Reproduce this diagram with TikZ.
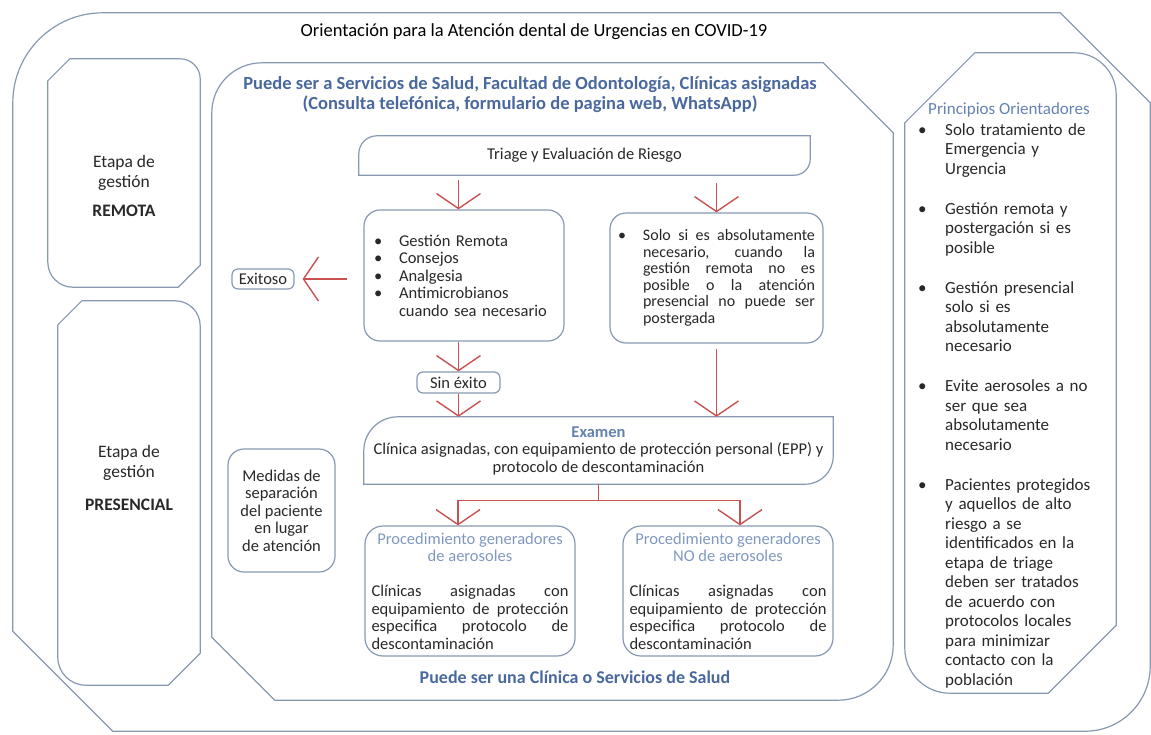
\documentclass[tikz,border=0pt]{standalone}
\usepackage{fontspec}
\setmainfont{Carlito}
\usetikzlibrary{arrows.meta,fit}
\definecolor{framec}{RGB}{135,152,178}
\definecolor{arrowc}{RGB}{200,82,82}
\definecolor{headc}{RGB}{72,104,158}
\definecolor{lightc}{RGB}{100,130,178}
\definecolor{procc}{RGB}{128,152,192}
\definecolor{txt}{RGB}{40,40,40}
% rounded NW/SE, snipped NE/SW
\newcommand\roundsnip[5]{\draw[frame] ([yshift=-#2pt]#1.north west) arc[start angle=180,end angle=90,radius=#2pt]
  -- ([xshift=-#3pt]#1.north east) -- ([yshift=-#3pt]#1.north east)
  -- ([yshift=#4pt]#1.south east) arc[start angle=0,end angle=-90,radius=#4pt]
  -- ([xshift=#5pt]#1.south west) -- ([yshift=#5pt]#1.south west) -- cycle;}
% snipped NW/SE, rounded NE/SW
\newcommand\sniprounded[5]{\draw[frame] ([yshift=-#2pt]#1.north west) -- ([xshift=#2pt]#1.north west)
  -- ([xshift=-#3pt]#1.north east) arc[start angle=90,end angle=0,radius=#3pt]
  -- ([yshift=#4pt]#1.south east) -- ([xshift=-#4pt]#1.south east)
  -- ([xshift=#5pt]#1.south west) arc[start angle=270,end angle=180,radius=#5pt] -- cycle;}
\newcommand\bul[1]{\makebox[#1][l]{\textbullet}}
\newcommand\pitem[1]{\noindent\bul{27pt}\hangindent=27pt\hangafter=1 #1\par}
\begin{document}
\begin{tikzpicture}[x=1pt,y=-1pt,
  every node/.style={inner sep=0pt,text=txt,font=\fontsize{16.5}{17.5}\selectfont},
  frame/.style={draw=framec,line width=1.2pt},
  box/.style={frame,rounded corners=#1},box/.default=16pt,
  tag/.style={frame,rounded corners=6pt,minimum height=20pt},
  redarrow/.style={draw=arrowc,line width=1.4pt,-{Straight Barb[length=15pt,width=44pt]}},
  redline/.style={draw=arrowc,line width=1.4pt},
  head/.style={font=\fontsize{18.5}{19.5}\selectfont\bfseries,text=headc,align=center},
  etapa/.style={font=\fontsize{17.5}{20}\selectfont,align=center},
  proc/.style={box=18pt,minimum width=210pt,minimum height=130pt,text width=197pt,align=justify}]
\useasboundingbox (0,0) rectangle (1151,734);
% frames
\node[fit={(13,13)(1150,731)}] (outer) {};
\roundsnip{outer}{90}{90}{65}{100}
\node[fit={(212,63)(893,700)}] (serv) {};
\roundsnip{serv}{50}{70}{55}{63}
\node[fit={(905,53)(1116,693)}] (princ) {};
\sniprounded{princ}{70}{42}{68}{45}
\node[fit={(48,59)(200,287)}] (remota) {};
\sniprounded{remota}{22}{20}{22}{25}
\node[fit={(58,301)(200,685)}] (pres) {};
\sniprounded{pres}{24}{25}{32}{28}
% titles
\node[font=\fontsize{18.5}{20}\selectfont,text=black] (title) at (534,32) {Orientación para la Atención dental de Urgencias en COVID-19};
\node[head] (servhead) at (530,94.5) {Puede ser a Servicios de Salud, Facultad de Odontología, Clínicas asignadas\\(Consulta telefónica, formulario de pagina web, WhatsApp)};
\node[head,font=\fontsize{18}{19}\selectfont\bfseries] (servfoot) at (575,677) {Puede ser una Clínica o Servicios de Salud};
\node[etapa] (remtxt) at (124,186) {Etapa de\\gestión\\[9pt]\textbf{REMOTA}};
\node[etapa] (prestxt) at (129,478) {Etapa de\\gestión\\[13pt]\textbf{PRESENCIAL}};
% triage
\node[minimum width=451pt,minimum height=39pt] (triage) at (584.5,155.5) {Triage y Evaluación de Riesgo};
\roundsnip{triage}{18}{0}{16}{0}
\node[box,minimum width=200pt,minimum height=131pt,text width=180pt,align=left] (gestion) at (464,275.5)
  {\bul{25pt}Gestión Remota\\\bul{25pt}Consejos\\\bul{25pt}Analgesia\\\bul{25pt}Antimicrobianos\\\hspace*{25pt}cuando sea necesario};
\node[box,minimum width=213pt,minimum height=130pt,text width=197pt,align=justify,font=\fontsize{16}{16.5}\selectfont] (solo) at (716.5,278)
  {\bul{25pt}\parbox[t]{172pt}{\hyphenpenalty=10000
   Solo si es absolutamente\linebreak necesario, cuando la\linebreak gestión remota no es\linebreak posible o la atención\linebreak presencial no puede ser\linebreak postergada}};
\node[tag,minimum width=62pt] (exitoso) at (263,279) {Exitoso};
\node[tag,minimum width=83pt,minimum height=21pt] (sinexito) at (458.5,382.5) {Sin éxito};
% examen
\node[minimum width=469pt,minimum height=67pt,align=center] (examen) at (598.5,450.5)
  {{\bfseries\color{lightc}Examen}\\Clínica asignadas, con equipamiento de protección personal (EPP) y\\protocolo de descontaminación};
\roundsnip{examen}{34}{0}{28}{0}
\node[proc] (aero) at (470,591) {{\centering\color{procc}Procedimiento generadores\par de aerosoles\par}\vspace{17.5pt}Clínicas asignadas con\linebreak equipamiento de protección\linebreak especifica protocolo de\linebreak descontaminación};
\node[proc] (noaero) at (728,591) {{\centering\color{procc}Procedimiento generadores\par NO de aerosoles\par}\vspace{17.5pt}Clínicas asignadas con\linebreak equipamiento de protección\linebreak especifica protocolo de\linebreak descontaminación};
\node[box,minimum width=107pt,minimum height=123pt,align=center] (medidas) at (281.5,510.5) {Medidas de\\separación\\del paciente\\en lugar\\de atención};
% arrows
\draw[redarrow,shorten <=5pt] (triage.south -| sinexito) -- (gestion.north -| sinexito);
\draw[redarrow,shorten <=8pt] (triage.south -| solo.north) -- (solo.north);
\draw[redarrow,shorten <=16pt,shorten >=8pt] (gestion.west |- exitoso) -- (exitoso.east);
\draw[redarrow] (gestion.south -| sinexito) -- (sinexito.north);
\draw[redarrow] (sinexito.south) -- (examen.north -| sinexito);
\draw[redarrow,shorten <=5pt] (solo.south) -- (examen.north -| solo.south);
\draw[redline] (examen.south) -- ++(0,16) coordinate (split);
\foreach \b/\dx in {aero/-12,noaero/12} \draw[redarrow] (split) -| ([xshift=\dx]\b.north);
% principios
\node[anchor=base west,font=\fontsize{17}{19.5}\selectfont,text=lightc] (phead) at (928,114) {Principios Orientadores};
\node[anchor=base west,text width=190pt,align=left,font=\fontsize{17}{19.5}\selectfont] (plist) at (918,135)
  {\pitem{Solo tratamiento de\newline Emergencia y\newline Urgencia}\vspace{20.5pt}%
   \pitem{Gestión remota y\newline postergación si es\newline posible}\vspace{20.5pt}%
   \pitem{Gestión presencial\newline solo si es\newline absolutamente\newline necesario}\vspace{20.5pt}%
   \pitem{Evite aerosoles a no\newline ser que sea\newline absolutamente\newline necesario}\vspace{20.5pt}%
   \pitem{Pacientes protegidos\newline y aquellos de alto\newline riesgo a se\newline identificados en la\newline etapa de triage\newline deben ser tratados\newline de acuerdo con\newline protocolos locales\newline para minimizar\newline contacto con la\newline población}};
\end{tikzpicture}
\end{document}
